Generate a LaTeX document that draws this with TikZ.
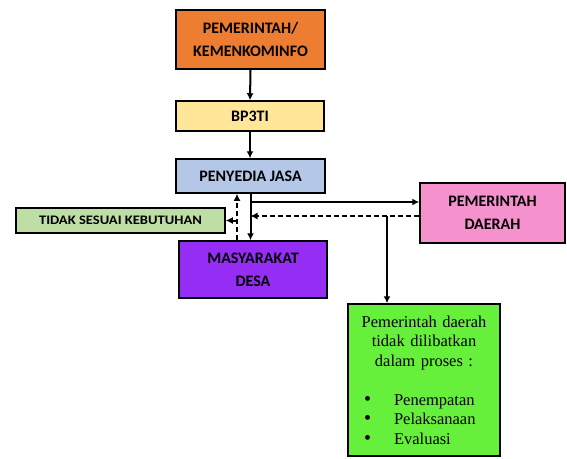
\documentclass[tikz,border=0pt]{standalone}
\usepackage{fontspec}
\setmainfont{Carlito}
\newfontfamily\notefont{Liberation Serif}
\newfontfamily\widefont{Carlito}[FakeStretch=1.12]
\usetikzlibrary{arrows.meta}

\definecolor{kemenorange}{RGB}{237,125,49}
\definecolor{bptiyellow}{RGB}{255,230,153}
\definecolor{jasablue}{RGB}{180,199,231}
\definecolor{tidakgreen}{RGB}{190,222,165}
\definecolor{desapurple}{RGB}{150,45,245}
\definecolor{daerahpink}{RGB}{245,145,205}
\definecolor{notegreen}{RGB}{102,240,60}

\newcommand{\notedot}{\hspace*{11pt}\makebox[30pt][l]{\fontsize{20}{19.5}\selectfont\textbullet}}

\tikzset{
  box/.style={draw=black,line width=1.5pt,inner sep=0pt,align=center,
    font=\fontsize{16}{23}\selectfont\bfseries},
  notebox/.style={draw=black,line width=1.5pt,fill=notegreen,inner sep=5pt,
    minimum width=152pt,minimum height=152pt,text width=142pt,
    font=\notefont\fontsize{16.5}{19.5}\selectfont},
  arr/.style={line width=2pt,-{Latex[length=7pt,width=7pt]}},
  dasharr/.style={arr,dash pattern=on 5pt off 3pt},
}

\begin{document}
\begin{tikzpicture}[x=1pt,y=-1pt]
\useasboundingbox (0,0) rectangle (567,458);

\node[box,fill=kemenorange,minimum width=149pt,minimum height=59pt] (kemen) at (250.5,39.5) {PEMERINTAH/\\KEMENKOMINFO};
\node[box,fill=bptiyellow,minimum width=148pt,minimum height=30pt] (bpti) at (250,116) {BP3TI};
\node[box,fill=jasablue,minimum width=149pt,minimum height=34pt] (jasa) at (250.5,176) {PENYEDIA JASA};
\node[box,fill=tidakgreen,minimum width=209pt,minimum height=25pt,font=\widefont\fontsize{13}{15}\selectfont\bfseries] (tidak) at (120.5,220.5) {TIDAK SESUAI KEBUTUHAN};
\node[box,fill=desapurple,minimum width=148pt,minimum height=57pt] (desa) at (253,269.5) {MASYARAKAT\\DESA};
\node[box,fill=daerahpink,minimum width=145pt,minimum height=60pt] (daerah) at (492.5,213) {PEMERINTAH\\DAERAH};
\node[notebox] (note) at (424,380) {\centering Pemerintah daerah\\tidak dilibatkan\\dalam proses :\\[19.5pt]
\raggedright
\notedot Penempatan\\
\notedot Pelaksanaan\\
\notedot Evaluasi\par};

\coordinate (up) at (237,220.5);
\coordinate (split) at (250.5,202);
\coordinate (back) at (250.5,216);
\coordinate (drop) at (387,216);

\draw[arr] (kemen.south) -- (bpti.north);
\draw[arr] (bpti.south) -- (bpti.south |- jasa.north);
\draw[dasharr] (desa.north -| up) -- (jasa.south -| up);
\draw[arr] (jasa.south) -- (jasa.south |- desa.north);
\draw[arr] (split) -- (split -| daerah.west);
\draw[dasharr] (back -| daerah.west) -- (back);
\draw[arr] (drop) -- (drop |- note.north);
\draw[arr] (up) -- (tidak.east);
\end{tikzpicture}
\end{document}
